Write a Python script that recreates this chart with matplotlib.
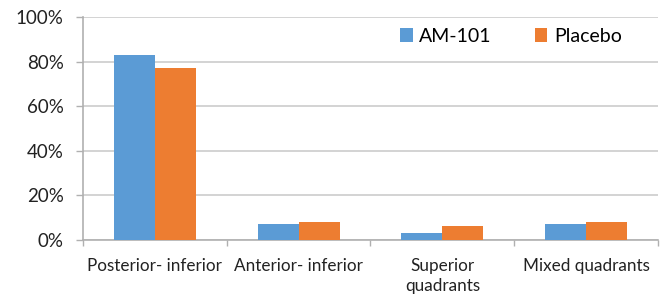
import matplotlib
matplotlib.use("Agg")
import matplotlib.pyplot as plt
import numpy as np
from matplotlib.ticker import PercentFormatter

categories = ["Posterior- inferior", "Anterior- inferior", "Superior\nquadrants", "Mixed quadrants"]
am101 = [83, 7, 3, 7]
placebo = [77, 8, 6.5, 8]
series_names = ["AM-101", "Placebo"]
colors = ["#5B9BD5", "#ED7D31"]
yticks = [0, 20, 40, 60, 80, 100]

plt.rcParams['font.family'] = ['Lato', 'DejaVu Sans']

fig = plt.figure(figsize=(6.67, 3.05), dpi=100)
ax = fig.add_axes([0.1244, 0.213, 0.862, 0.731])

x = np.arange(len(categories))
w = 0.285
ax.bar(x - w/2, am101, width=w, color=colors[0], label=series_names[0], zorder=3)
ax.bar(x + w/2, placebo, width=w, color=colors[1], label=series_names[1], zorder=3)

ax.set_xlim(-0.5, len(categories) - 0.5)
ax.set_ylim(0, 100)
ax.set_yticks(yticks)
ax.yaxis.set_major_formatter(PercentFormatter(decimals=0))
ax.grid(axis='y', color='#d0d0d0', linewidth=1.3, zorder=0)
ax.set_axisbelow(True)

ax.set_xticks(x)
ax.set_xticklabels(categories, fontsize=12.3, color='#222222', linespacing=1.3)
ax.tick_params(axis='x', length=0, pad=13)
ax.set_xticks(np.arange(-0.5, len(categories)), minor=True)
ax.tick_params(axis='x', which='minor', length=4.5, color='#b0b0b0', width=1)
ax.tick_params(axis='y', length=5, color='#b0b0b0', width=1, labelsize=13.5, labelcolor='#222222', pad=9)

for s in ['top', 'right']:
    ax.spines[s].set_visible(False)
for s in ['left', 'bottom']:
    ax.spines[s].set_color('#b0b0b0')
    ax.spines[s].set_linewidth(1.2)

leg = ax.legend(loc='upper right', bbox_to_anchor=(0.968, 1.03), ncol=2, frameon=False,
                fontsize=14, handlelength=0.65, handleheight=0.75, columnspacing=2.2, handletextpad=0.35)

fig.savefig("out.png", dpi=100)
